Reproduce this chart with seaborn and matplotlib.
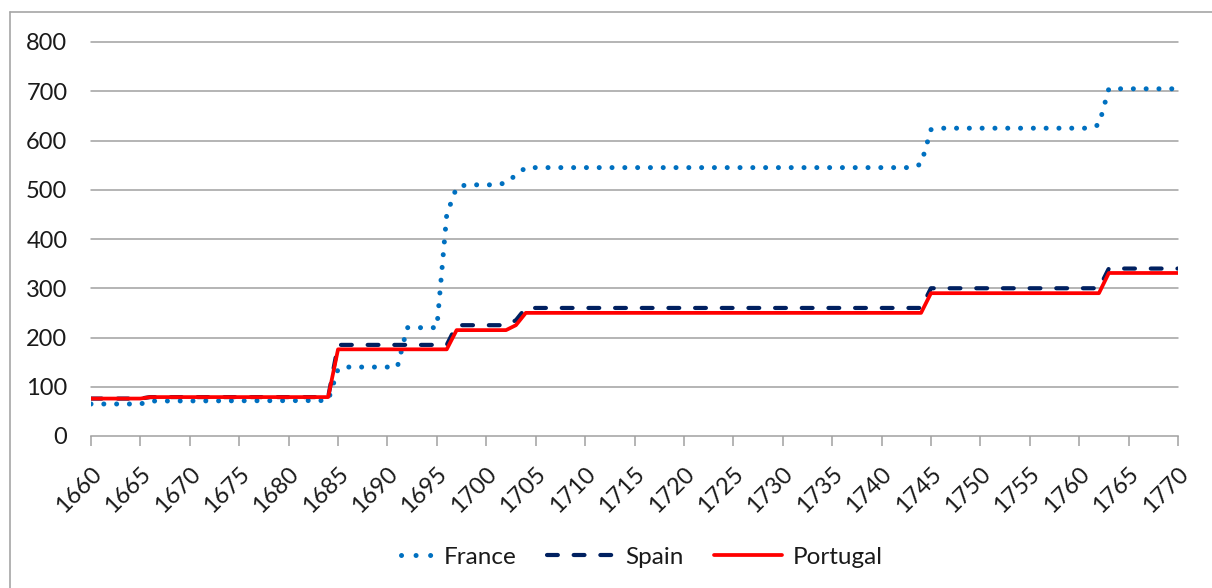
import matplotlib
matplotlib.use("Agg")
from matplotlib import pyplot as plt
from matplotlib.lines import Line2D
import matplotlib.transforms as mtrans
import pandas as pd
import seaborn as sns

# breakpoints (year, value), straight lines between them
france_years = [1660, 1665, 1666, 1684, 1685, 1686, 1691, 1692, 1695, 1696, 1697, 1698,
                1701, 1702, 1703, 1704, 1743, 1744, 1745, 1746, 1761, 1762, 1763, 1770]
france_vals = [65, 65, 71, 72, 136, 140, 140, 220, 220, 450, 505, 510,
               510, 514, 530, 545, 545, 552, 622, 625, 625, 632, 705, 705]

spain_years = [1660, 1665, 1666, 1684, 1685, 1696, 1697, 1702, 1703, 1704, 1744, 1745, 1762, 1763, 1770]
spain_vals = [76, 76, 79, 79, 185, 185, 225, 225, 235, 260, 260, 300, 300, 340, 340]

portugal_years = [1660, 1665, 1666, 1684, 1685, 1696, 1697, 1702, 1703, 1704, 1744, 1745, 1762, 1763, 1770]
portugal_vals = [76, 76, 79, 79, 176, 176, 215, 215, 225, 250, 250, 290, 290, 331, 331]

x_ticks = list(range(1660, 1771, 5))
y_ticks = list(range(0, 801, 100))

sns.set_style("white")
plt.rcParams['font.family'] = ['Lato', 'DejaVu Sans']

fig = plt.figure(figsize=(12.12, 5.88), dpi=100)
ax = fig.add_axes([91/1212, 1 - 436/588, (1178-91)/1212, (436-42)/588])

grid_col = '#a0a0a0'
txt_col = '#1a1a1a'
fs = 17
fr_style = dict(color='#0070C0', linewidth=3.6, linestyle=(0, (0.01, 2.55)), dash_capstyle='round')
es_style = dict(color='#002060', linewidth=3.0, linestyle=(0, (2.6, 3.8)), dash_capstyle='round')
pt_style = dict(color='#FF0000', linewidth=2.7, linestyle='-')

df_fr = pd.DataFrame({'year': france_years, 'value': france_vals})
df_es = pd.DataFrame({'year': spain_years, 'value': spain_vals})
df_pt = pd.DataFrame({'year': portugal_years, 'value': portugal_vals})

sns.lineplot(data=df_fr, x='year', y='value', ax=ax, zorder=3, **fr_style)
sns.lineplot(data=df_es, x='year', y='value', ax=ax, zorder=4, **es_style)
sns.lineplot(data=df_pt, x='year', y='value', ax=ax, zorder=5, **pt_style)

ax.set_xlim(1660, 1770)
ax.set_ylim(0, 800)
ax.set_xticks(x_ticks)
ax.set_xticklabels([])
ax.set_yticks(y_ticks)
ax.set_xlabel('')
ax.set_ylabel('')

for y in y_ticks[1:]:
    ax.axhline(y, color=grid_col, linewidth=1.1, zorder=1, clip_on=False)

for s in ['top', 'right', 'left']:
    ax.spines[s].set_visible(False)
ax.spines['bottom'].set_color(grid_col)
ax.spines['bottom'].set_linewidth(1.1)

ax.tick_params(axis='y', length=0, pad=17, labelsize=fs, labelcolor=txt_col)
ax.tick_params(axis='x', direction='out', length=7, width=1.1, color=grid_col, bottom=True)

# rotated year labels, hung below each tick
lab_tr = ax.get_xaxis_transform() + mtrans.ScaledTranslation(5/72, -25/72, fig.dpi_scale_trans)
for yr in x_ticks:
    ax.text(yr, 0, str(yr), transform=lab_tr, rotation=45, rotation_mode='anchor',
            ha='right', va='center', fontsize=fs, color=txt_col)

# France legend key shows only three dots at its right end
fr_key = dict(fr_style)
fr_key['linestyle'] = (18.83, (0.01, 2.9, 0.01, 2.9, 0.01, 20))
handles = [Line2D([], [], **fr_key), Line2D([], [], **es_style), Line2D([], [], **pt_style)]
fig.legend(handles, ['France', 'Spain', 'Portugal'], loc='center', bbox_to_anchor=(624/1212, 1 - 557/588),
           ncol=3, frameon=False, fontsize=17.5, handlelength=2.8, handletextpad=0.42, columnspacing=1.25,
           labelcolor=txt_col)

# chart frame (left and top edges visible)
fig.add_artist(Line2D([10/1212, 10/1212], [0, 1 - 12/588], color='#a6a6a6', linewidth=1.2))
fig.add_artist(Line2D([10/1212, 1], [1 - 12/588, 1 - 12/588], color='#a6a6a6', linewidth=1.2))

fig.savefig('out.png', dpi=100)
